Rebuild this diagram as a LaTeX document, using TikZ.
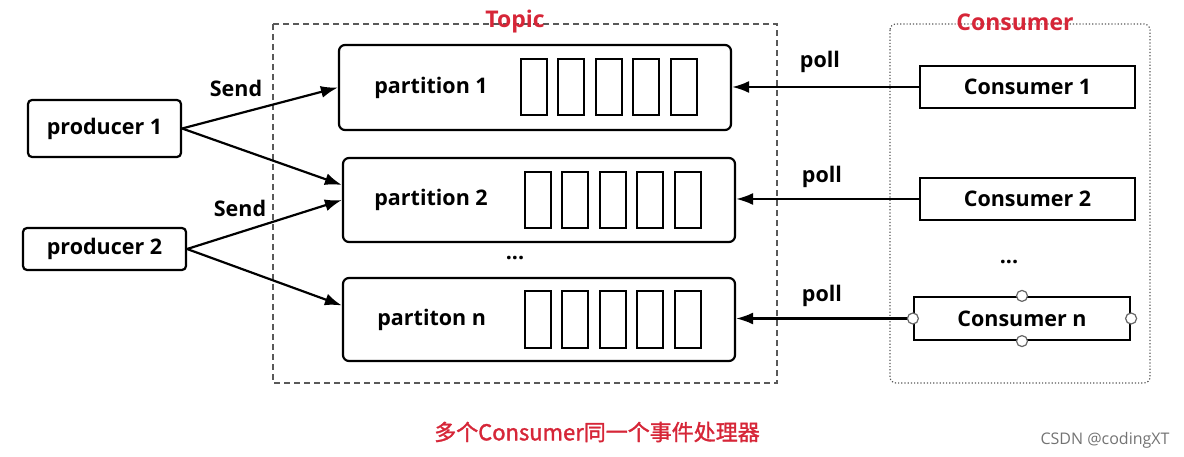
\documentclass[tikz,border=0pt]{standalone}
\usepackage{fontspec}
\setmainfont{Open Sans}
\newfontfamily\cjk{Noto Sans CJK SC}[FakeBold=1.5]
\usetikzlibrary{positioning,arrows.meta}
\definecolor{titlered}{RGB}{214,38,56}

\begin{document}
\begin{tikzpicture}[
  x=1pt, y=-1pt,
  line width=2.2pt,
  font=\fontsize{21.5}{26}\selectfont\bfseries,
  prod/.style={draw, rounded corners=4pt, inner sep=0pt},
  part/.style={draw, rounded corners=6pt, minimum width=392pt, inner sep=0pt},
  cell/.style={draw, line width=2pt, minimum width=26pt, minimum height=56pt, inner sep=0pt},
  cons/.style={draw, minimum height=42pt, inner sep=0pt},
  port/.style={circle, draw=black!60, fill=white, line width=1.2pt, minimum size=11pt, inner sep=0pt},
  grp/.style={draw=black!65, line width=1.2pt},
  ttl/.style={text=titlered, font=\fontsize{23}{27}\selectfont\bfseries},
  arr/.style={-{Latex[length=17pt,width=12pt]}}
]
\useasboundingbox (0,0) rectangle (1184,457);

% groups
\draw[grp, dash pattern=on 6pt off 4pt] (273,24) rectangle (777,383);
\draw[grp, dotted, rounded corners=6pt] (890,24) rectangle (1150,383);
\node[ttl] (topic) at (515,22) {Topic};
\node[ttl] (consumer) at (1015,22) {Consumer};

% producers
\node[prod, minimum width=153pt, minimum height=57pt] (prod1) at (104.5,128.5) {producer 1};
\node[prod, minimum width=163pt, minimum height=42pt] (prod2) at (104.5,249) {producer 2};

% partitions
\node[part, minimum height=85pt] (p1) at (535,87.5) {};
\node[part, minimum height=84pt] (p2) at (539,200) {};
\node[part, minimum height=83pt] (pn) at (539,319.5) {};
\node[anchor=west] (p1lbl) at ([xshift=32pt]p1.west) {partition 1};
\node[anchor=west] (p2lbl) at ([xshift=28pt]p2.west) {partition 2};
\node[anchor=west] (pnlbl) at ([xshift=31pt]pn.west) {partiton n};
\foreach \p in {p1,p2,pn}
  \foreach \i in {0,...,4}
    \node[cell, anchor=west] (\p c\i) at ([xshift=182pt+\i*37.5pt]\p.west) {};
\node (pdots) at (515,258) {...};

% consumers
\node[cons, minimum width=215pt] (c1) at (1027.5,87) {Consumer 1};
\node[cons, minimum width=215pt] (c2) at (1027.5,199) {Consumer 2};
\node[cons, minimum width=216pt, minimum height=43pt] (cn) at (1022,318.5) {Consumer n};
\node (cdots) at (1009,262) {...};

% send
\draw[arr] (prod1.east) -- (p1.west);
\draw[arr] (prod1.east) -- ([yshift=15pt]p2.west);
\draw[arr] (prod2.east) -- (p2.west);
\draw[arr] (prod2.east) -- ([yshift=14pt]pn.west);
\node (send1) at (236,88) {Send};
\node (send2) at (240,208) {Send};

% poll
\draw[arr] (c1.west) -- (c1.west -| p1.east);
\draw[arr] (c2.west) -- (c2.west -| p2.east);
\draw[arr] (cn.west) -- (cn.west -| pn.east);
\node (poll1) at (820,62) {poll};
\node (poll2) at (822,177) {poll};
\node (polln) at (822,296) {poll};
\foreach \a in {north,south,east,west}
  \node[port] at (cn.\a) {};

% caption
\node[text=titlered, font=\fontsize{22}{26}\selectfont\cjk] (cap) at (597,432) {多个Consumer同一个事件处理器};
\node[text=black!55, font=\fontsize{16}{19}\selectfont] (mark) at (1105,440) {CSDN @codingXT};
\end{tikzpicture}
\end{document}
